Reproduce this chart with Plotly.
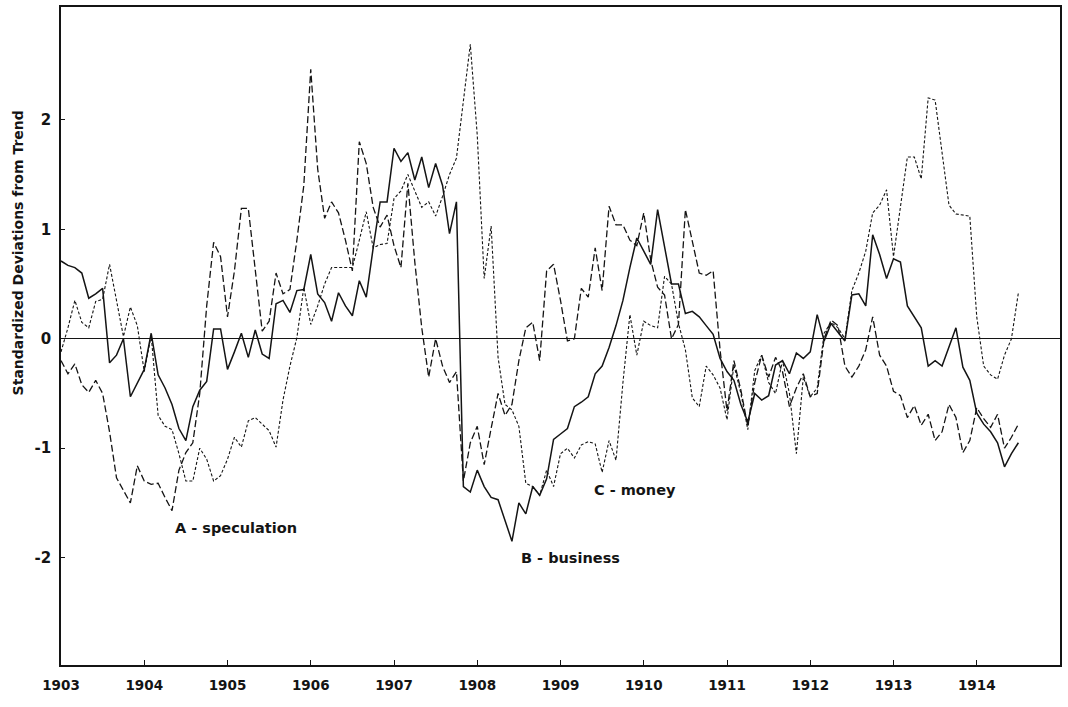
import plotly.graph_objects as go

# Monthly observations, January 1903 onward
start_year = 1903
speculation = [
    -0.2, -0.32, -0.23, -0.42, -0.49, -0.38, -0.5, -0.85, -1.27, -1.38, -1.5, -1.16,
    -1.3, -1.33, -1.32, -1.45, -1.57, -1.2, -1.04, -0.95, -0.5, 0.3, 0.88, 0.75,
    0.2, 0.62, 1.19, 1.19, 0.6, 0.07, 0.16, 0.6, 0.41, 0.45, 0.9, 1.4,
    2.46, 1.55, 1.1, 1.25, 1.15, 0.9, 0.62, 1.8, 1.6, 1.2, 1.02, 1.13,
    0.85, 0.65, 1.42, 0.7, 0.1, -0.35, 0.0, -0.25, -0.4, -0.3, -1.3, -0.95,
    -0.8, -1.15, -0.82, -0.5, -0.7, -0.6, -0.2, 0.1, 0.15, -0.2, 0.62, 0.68,
    0.35, -0.02, 0.0, 0.46, 0.38, 0.83, 0.44, 1.21, 1.04, 1.04, 0.9, 0.85,
    1.15, 0.72, 0.47, 0.4, 0.0, 0.13, 1.18, 0.9, 0.6, 0.58, 0.62, -0.1,
    -0.66, -0.2, -0.47, -0.8, -0.4, -0.15, -0.35, -0.17, -0.3, -0.62, -0.45, -0.32,
    -0.53, -0.5, 0.0, 0.17, 0.12, -0.25, -0.35, -0.25, -0.1, 0.2, -0.15, -0.25,
    -0.48, -0.52, -0.72, -0.61, -0.79, -0.69, -0.93, -0.85, -0.6, -0.72, -1.04, -0.93,
    -0.63, -0.73, -0.81, -0.69, -1.0, -0.9, -0.78,
]
business = [
    0.71, 0.67, 0.65, 0.6, 0.37, 0.41, 0.46, -0.22, -0.15, 0.0, -0.53, -0.4,
    -0.28, 0.05, -0.33, -0.45, -0.6, -0.82, -0.93, -0.62, -0.47, -0.39, 0.09, 0.09,
    -0.28, -0.12, 0.05, -0.17, 0.08, -0.14, -0.18, 0.32, 0.35, 0.24, 0.44, 0.45,
    0.77, 0.41, 0.33, 0.16, 0.42, 0.3, 0.21, 0.53, 0.38, 0.83, 1.25, 1.25,
    1.74, 1.62, 1.7, 1.45, 1.66, 1.38, 1.6, 1.4, 0.96, 1.25, -1.35, -1.4,
    -1.2, -1.35, -1.45, -1.47, -1.66, -1.85, -1.5, -1.6, -1.35, -1.43, -1.28, -0.92,
    -0.87, -0.82, -0.62, -0.58, -0.53, -0.32, -0.25, -0.08, 0.12, 0.35, 0.65, 0.92,
    0.8, 0.68, 1.18, 0.85, 0.5, 0.5, 0.23, 0.25, 0.2, 0.12, 0.04, -0.18,
    -0.3, -0.38, -0.6, -0.76, -0.5, -0.56, -0.52, -0.24, -0.2, -0.32, -0.13, -0.18,
    -0.12, 0.22, -0.02, 0.14, 0.06, -0.02, 0.4, 0.41, 0.3, 0.95, 0.77, 0.55,
    0.73, 0.7, 0.3, 0.2, 0.1, -0.25, -0.2, -0.25, -0.07, 0.1, -0.26, -0.38,
    -0.68, -0.78, -0.85, -0.95, -1.17, -1.05, -0.95,
]
money = [
    -0.12, 0.1, 0.35, 0.15, 0.1, 0.34, 0.36, 0.68, 0.35, 0.02, 0.29, 0.12,
    -0.3, 0.03, -0.7, -0.8, -0.83, -1.05, -1.3, -1.3, -1.0, -1.1, -1.3, -1.25,
    -1.1, -0.9, -0.99, -0.75, -0.72, -0.78, -0.84, -0.99, -0.56, -0.25, 0.01, 0.47,
    0.13, 0.3, 0.5, 0.65, 0.65, 0.65, 0.65, 0.9, 1.16, 0.83, 0.86, 0.87,
    1.28, 1.35, 1.5, 1.35, 1.2, 1.25, 1.12, 1.3, 1.5, 1.65, 2.2, 2.69,
    1.86, 0.55, 1.03, -0.17, -0.6, -0.65, -0.8, -1.32, -1.35, -1.43, -1.2, -1.35,
    -1.05, -1.0, -1.09, -0.97, -0.94, -0.96, -1.22, -0.93, -1.11, -0.4, 0.22, -0.15,
    0.16, 0.12, 0.1, 0.57, 0.5, 0.14, -0.1, -0.54, -0.62, -0.25, -0.33, -0.45,
    -0.74, -0.24, -0.5, -0.83, -0.29, -0.15, -0.4, -0.5, -0.2, -0.5, -1.05, -0.35,
    -0.53, -0.45, 0.05, 0.15, 0.1, 0.0, 0.44, 0.6, 0.8, 1.15, 1.22, 1.36,
    0.75, 1.2, 1.66, 1.66, 1.46, 2.2, 2.18, 1.7, 1.22, 1.14, 1.13, 1.12,
    0.2, -0.25, -0.33, -0.37, -0.15, 0.0, 0.42,
]
year_ticks = list(range(1903, 1915))
value_ticks = [-2, -1, 0, 1, 2]
series_labels = ["A - speculation", "B - business", "C - money"]
label_x = [1905.1, 1909.12, 1909.9]
label_y = [-1.73, -2.0, -1.38]

def months(n):
    return [start_year + i / 12 for i in range(n)]

ink = "#141414"
fig = go.Figure()
fig.add_trace(go.Scatter(x=months(len(speculation)), y=speculation, mode="lines",
                         line=dict(color=ink, width=1.3, dash="7px,3px"),
                         name="A", showlegend=False))
fig.add_trace(go.Scatter(x=months(len(business)), y=business, mode="lines",
                         line=dict(color=ink, width=1.5),
                         name="B", showlegend=False))
fig.add_trace(go.Scatter(x=months(len(money)), y=money, mode="lines",
                         line=dict(color=ink, width=1.1, dash="3px,2px"),
                         name="C", showlegend=False))

font_family = "'DejaVu Sans', sans-serif"
for t, x, y in zip(series_labels, label_x, label_y):
    fig.add_annotation(x=x, y=y, text=t, showarrow=False,
                       font=dict(family=font_family, size=14.5, color=ink, weight="bold"))

fig.add_annotation(xref="paper", x=-0.043, xanchor="center", yref="y", y=0.78,
                   yanchor="middle",
                   text="Standardized Deviations from Trend", textangle=-90,
                   showarrow=False,
                   font=dict(family=font_family, size=14, color=ink, weight="bold"))

fig.update_layout(
    width=1068, height=707,
    margin=dict(l=61, r=8, t=5, b=42),
    paper_bgcolor="white", plot_bgcolor="white",
    xaxis=dict(range=[1903, 1915], tickvals=year_ticks,
               ticktext=[str(y) for y in year_ticks],
               ticks="inside", ticklen=5, tickcolor=ink,
               ticklabelstandoff=7,
               showgrid=False, zeroline=False,
               showline=True, linecolor=ink, linewidth=1.5, mirror=True,
               tickfont=dict(family=font_family, size=13.5, color=ink, weight="bold")),
    yaxis=dict(range=[-2.98, 3.03], tickvals=value_ticks,
               ticktext=[str(v) for v in value_ticks],
               ticks="inside", ticklen=4, tickcolor=ink,
               ticklabelstandoff=5,
               showgrid=False, zeroline=True, zerolinecolor=ink, zerolinewidth=1.3,
               showline=True, linecolor=ink, linewidth=1.5, mirror=True,
               tickfont=dict(family=font_family, size=15, color=ink, weight="bold")),
)

fig.write_html("out.html", config={"displayModeBar": False},
               post_script="document.body.style.margin='0';")
